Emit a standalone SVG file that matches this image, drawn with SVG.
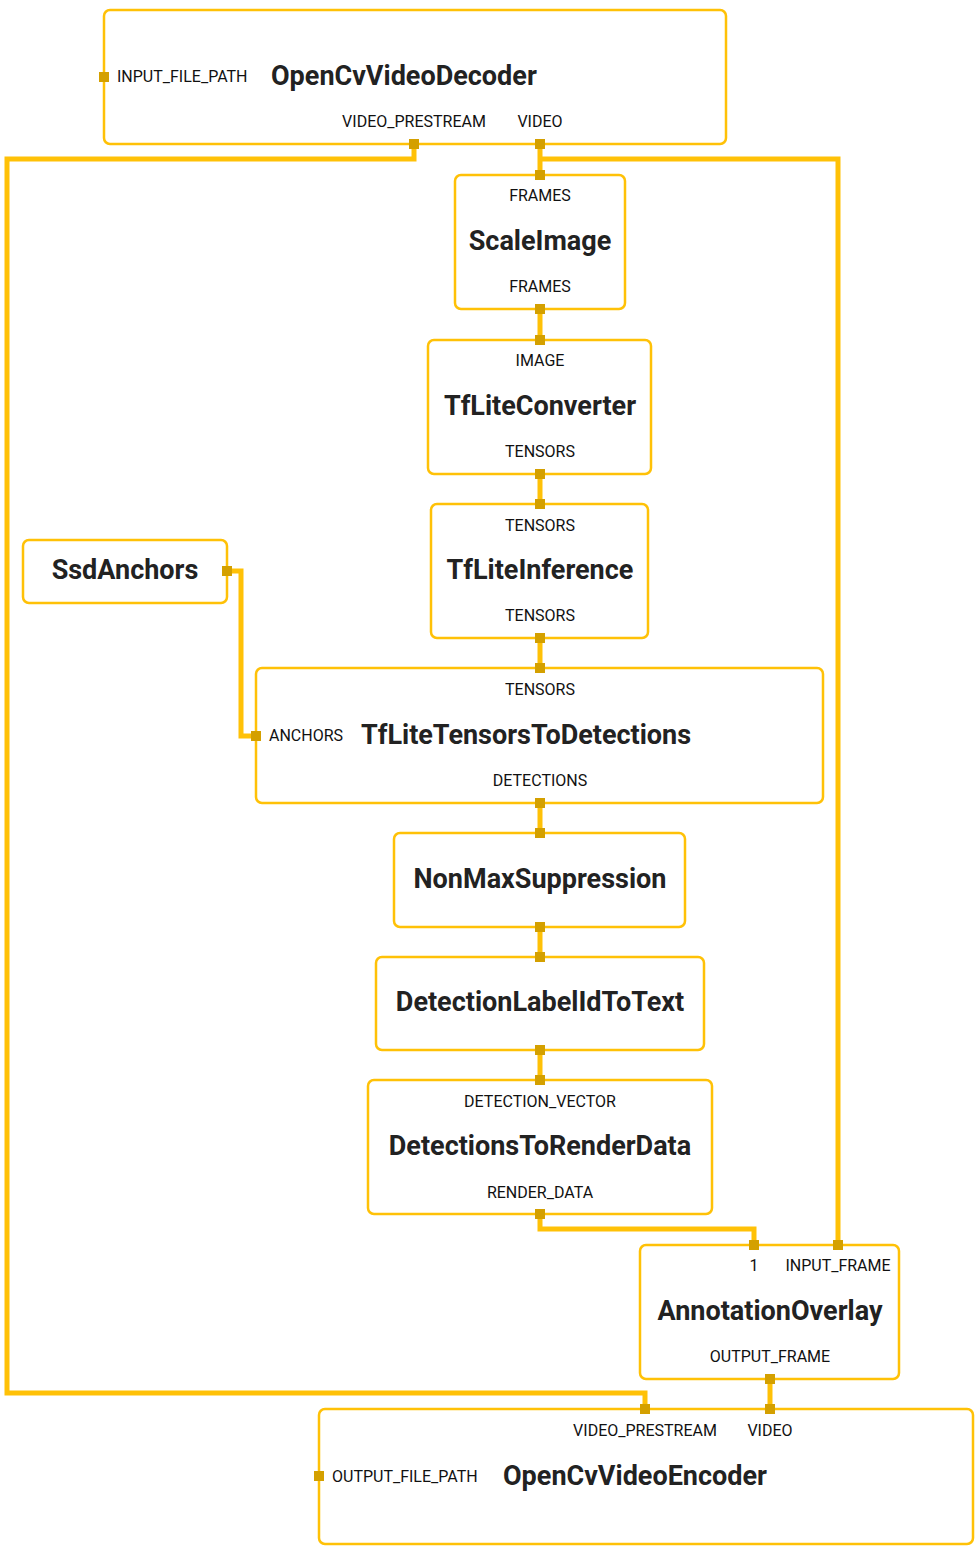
<svg xmlns="http://www.w3.org/2000/svg" width="980" height="1550" viewBox="0 0 980 1550">
<style>
.n{fill:#fff;stroke:#FFC107;stroke-width:2.5}
.c{fill:none;stroke:#FFC107;stroke-width:5}
.p{fill:#D4A000}
.t{font-family:Roboto,"Liberation Sans",sans-serif;font-size:27px;font-weight:bold;fill:#222}
.l{font-family:Roboto,"Liberation Sans",sans-serif;font-size:16px;fill:#111}
</style>
<rect width="980" height="1550" fill="#fff"/>
<g id="connectors">
<path class="c" d="M414,144V159H7V1393H645V1409"/>
<path class="c" d="M540,144V175M540,159H838V1245"/>
<path class="c" d="M227,571H241V736H256"/>
<path class="c" d="M540,309V340M540,474V504M540,638V668M540,803V833M540,927V957M540,1050V1080"/>
<path class="c" d="M540,1214V1229H754V1245"/>
<path class="c" d="M770,1379V1409"/>
</g>
<g id="OpenCvVideoDecoder">
<rect class="n" x="104" y="10" width="622" height="134" rx="6"/>
<text class="l" x="117" y="82">INPUT_FILE_PATH</text>
<text class="t" x="271" y="85">OpenCvVideoDecoder</text>
<text class="l" x="414" y="127" text-anchor="middle">VIDEO_PRESTREAM</text>
<text class="l" x="540" y="127" text-anchor="middle">VIDEO</text>
<rect class="p" x="99" y="72" width="10" height="10"/><rect class="p" x="409" y="139" width="10" height="10"/><rect class="p" x="535" y="139" width="10" height="10"/>
</g>
<g id="ScaleImage">
<rect class="n" x="455" y="175" width="170" height="134" rx="6"/>
<text class="l" x="540" y="201" text-anchor="middle">FRAMES</text>
<text class="t" x="540" y="250" text-anchor="middle">ScaleImage</text>
<text class="l" x="540" y="292" text-anchor="middle">FRAMES</text>
<rect class="p" x="535" y="170" width="10" height="10"/><rect class="p" x="535" y="304" width="10" height="10"/>
</g>
<g id="TfLiteConverter">
<rect class="n" x="428" y="340" width="223" height="134" rx="6"/>
<text class="l" x="540" y="366" text-anchor="middle">IMAGE</text>
<text class="t" x="540" y="415" text-anchor="middle">TfLiteConverter</text>
<text class="l" x="540" y="457" text-anchor="middle">TENSORS</text>
<rect class="p" x="535" y="335" width="10" height="10"/><rect class="p" x="535" y="469" width="10" height="10"/>
</g>
<g id="TfLiteInference">
<rect class="n" x="431" y="504" width="217" height="134" rx="6"/>
<text class="l" x="540" y="531" text-anchor="middle">TENSORS</text>
<text class="t" x="540" y="579" text-anchor="middle">TfLiteInference</text>
<text class="l" x="540" y="621" text-anchor="middle">TENSORS</text>
<rect class="p" x="535" y="499" width="10" height="10"/><rect class="p" x="535" y="633" width="10" height="10"/>
</g>
<g id="SsdAnchors">
<rect class="n" x="23" y="540" width="204" height="63" rx="6"/>
<text class="t" x="125" y="579" text-anchor="middle">SsdAnchors</text>
<rect class="p" x="222" y="566" width="10" height="10"/>
</g>
<g id="TfLiteTensorsToDetections">
<rect class="n" x="256" y="668" width="567" height="135" rx="6"/>
<text class="l" x="540" y="695" text-anchor="middle">TENSORS</text>
<text class="l" x="269" y="741">ANCHORS</text>
<text class="t" x="361" y="744">TfLiteTensorsToDetections</text>
<text class="l" x="540" y="786" text-anchor="middle">DETECTIONS</text>
<rect class="p" x="535" y="663" width="10" height="10"/><rect class="p" x="251" y="731" width="10" height="10"/><rect class="p" x="535" y="798" width="10" height="10"/>
</g>
<g id="NonMaxSuppression">
<rect class="n" x="394" y="833" width="291" height="94" rx="6"/>
<text class="t" x="540" y="888" text-anchor="middle">NonMaxSuppression</text>
<rect class="p" x="535" y="828" width="10" height="10"/><rect class="p" x="535" y="922" width="10" height="10"/>
</g>
<g id="DetectionLabelIdToText">
<rect class="n" x="376" y="957" width="328" height="93" rx="6"/>
<text class="t" x="540" y="1011" text-anchor="middle">DetectionLabelIdToText</text>
<rect class="p" x="535" y="952" width="10" height="10"/><rect class="p" x="535" y="1045" width="10" height="10"/>
</g>
<g id="DetectionsToRenderData">
<rect class="n" x="368" y="1080" width="344" height="134" rx="6"/>
<text class="l" x="540" y="1107" text-anchor="middle">DETECTION_VECTOR</text>
<text class="t" x="540" y="1155" text-anchor="middle">DetectionsToRenderData</text>
<text class="l" x="540" y="1198" text-anchor="middle">RENDER_DATA</text>
<rect class="p" x="535" y="1075" width="10" height="10"/><rect class="p" x="535" y="1209" width="10" height="10"/>
</g>
<g id="AnnotationOverlay">
<rect class="n" x="640" y="1245" width="259" height="134" rx="6"/>
<text class="l" x="754" y="1271" text-anchor="middle">1</text>
<text class="l" x="838" y="1271" text-anchor="middle">INPUT_FRAME</text>
<text class="t" x="770" y="1320" text-anchor="middle">AnnotationOverlay</text>
<text class="l" x="770" y="1362" text-anchor="middle">OUTPUT_FRAME</text>
<rect class="p" x="749" y="1240" width="10" height="10"/><rect class="p" x="833" y="1240" width="10" height="10"/><rect class="p" x="765" y="1374" width="10" height="10"/>
</g>
<g id="OpenCvVideoEncoder">
<rect class="n" x="319" y="1409" width="654" height="135" rx="6"/>
<text class="l" x="645" y="1436" text-anchor="middle">VIDEO_PRESTREAM</text>
<text class="l" x="770" y="1436" text-anchor="middle">VIDEO</text>
<text class="l" x="332" y="1482">OUTPUT_FILE_PATH</text>
<text class="t" x="503" y="1485">OpenCvVideoEncoder</text>
<rect class="p" x="640" y="1404" width="10" height="10"/><rect class="p" x="765" y="1404" width="10" height="10"/><rect class="p" x="314" y="1471" width="10" height="10"/>
</g>
</svg>
